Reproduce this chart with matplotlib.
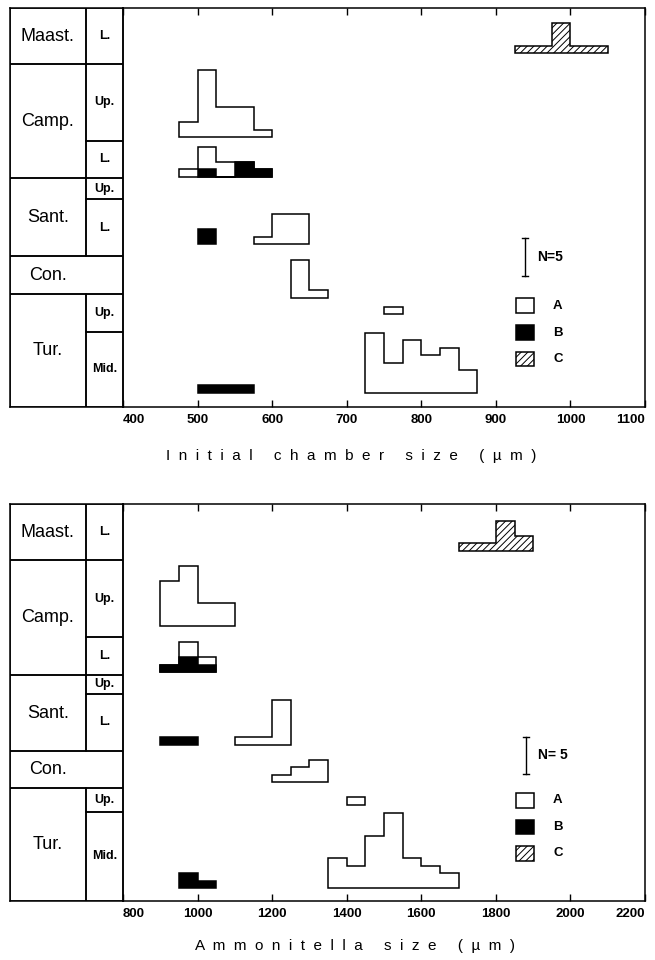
import numpy as np
import matplotlib
matplotlib.use("Agg")
import matplotlib.pyplot as plt
from matplotlib.patches import Rectangle, Polygon

plt.rcParams['font.family'] = ['Liberation Sans', 'DejaVu Sans']
plt.rcParams['hatch.linewidth'] = 0.7

# stratigraphic column (same vertical units as the histograms: 1 unit = 1 specimen)
stages = ["Maast.", "Camp.", "Sant.", "Con.", "Tur."]
substages = ["L.", "Up.", "L.", "Up.", "L.", "Up.", "Mid."]
sub_stage = [0, 1, 1, 2, 2, 4, 4]

chamber_stage_top = [53.2, 45.7, 30.5, 20.1, 15.1]
chamber_stage_bot = [45.7, 30.5, 20.1, 15.1, 0.0]
chamber_sub_top = [53.2, 45.7, 35.5, 30.5, 27.7, 15.1, 10.0]
chamber_sub_bot = [45.7, 35.5, 30.5, 27.7, 20.1, 10.0, 0.0]

ammon_stage_top = [52.9, 45.4, 30.1, 20.0, 15.0]
ammon_stage_bot = [45.4, 30.1, 20.0, 15.0, 0.0]
ammon_sub_top = [52.9, 45.4, 35.2, 30.1, 27.6, 15.0, 11.9]
ammon_sub_bot = [45.4, 35.2, 30.1, 27.6, 20.0, 11.9, 0.0]

# sampled horizons: Maast L, Camp Up, Camp L, Sant L, Con, Tur Up, Tur Mid
chamber_level = [47.2, 36.0, 30.7, 21.7, 14.6, 12.4, 1.9]
ammon_level = [46.7, 36.7, 30.5, 20.8, 15.8, 12.8, 1.7]

# (horizon, first bin edge, counts)
chamber_bin = 25
chamber_A = [(1, 475, [2, 9, 4, 4, 1]), (2, 475, [1, 3, 2, 0, 0]), (3, 575, [1, 4, 4]),
             (4, 625, [5, 1]), (5, 750, [1]), (6, 725, [8, 4, 7, 5, 6, 3])]
chamber_B = [(2, 500, [1, 0, 2, 1]), (3, 500, [2]), (6, 500, [1, 1, 1])]
chamber_C = [(0, 925, [1, 1, 4, 1, 1])]

ammon_bin = 50
ammon_A = [(1, 900, [6, 8, 3, 3]), (2, 900, [0, 2, 1]), (3, 1100, [1, 1, 6]),
           (4, 1200, [1, 2, 3]), (5, 1400, [1]), (6, 1350, [4, 3, 7, 10, 4, 3, 2])]
ammon_B = [(2, 900, [1, 2, 1]), (3, 900, [1, 1]), (6, 950, [2, 1])]
ammon_C = [(0, 1700, [1, 1, 4, 2])]

chamber_ticks = [400, 500, 600, 700, 800, 900, 1000, 1100]
ammon_ticks = [800, 1000, 1200, 1400, 1600, 1800, 2000, 2200]

LW = 1.1


def spaced(s):
    # letter-spaced label as in the original figure
    return "     ".join("  ".join(w) for w in s.split(" "))


def draw_hist(ax, entries, level, width, face, hatch=None, under=()):
    for lev, start, counts in entries:
        counts = np.array(counts, float)
        edges = start + width * np.arange(len(counts) + 1)
        base = level[lev]
        extra = np.zeros(len(counts))
        for lev2, start2, c2 in under:
            if lev2 != lev:
                continue
            for j, c in enumerate(c2):
                k = int(round((start2 + j * width - start) / width))
                if 0 <= k < len(counts):
                    extra[k] += c
        top = base + extra + counts
        pts = [(edges[0], base)]
        for i in range(len(counts)):
            pts.append((edges[i], top[i]))
            pts.append((edges[i + 1], top[i]))
        pts.append((edges[-1], base))
        ax.add_patch(Polygon(pts, closed=True, facecolor=face, edgecolor='black',
                             linewidth=LW, hatch=hatch, joinstyle='miter'))


def draw_column(cax, stop, sbot, subtop, subbot, ymax):
    cax.set_xlim(0, 1)
    cax.set_ylim(0, ymax)
    cax.set_xticks([])
    cax.set_yticks([])
    for s in cax.spines.values():
        s.set_linewidth(LW)
    split = 0.67
    for i, name in enumerate(stages):
        has_sub = i in sub_stage
        w = split if has_sub else 1.0
        cax.add_patch(Rectangle((0, sbot[i]), w, stop[i] - sbot[i], fill=False,
                                edgecolor='black', linewidth=LW))
        cax.text(split / 2, (stop[i] + sbot[i]) / 2, name, ha='center',
                 va='center', fontsize=13)
    for j, name in enumerate(substages):
        cax.add_patch(Rectangle((split, subbot[j]), 1 - split, subtop[j] - subbot[j],
                                fill=False, edgecolor='black', linewidth=LW))
        cax.text((1 + split) / 2, (subtop[j] + subbot[j]) / 2, name, ha='center',
                 va='center', fontsize=9, fontweight='bold')


def draw_legend(ax, nx, ny, ntext):
    ax.plot([nx, nx], [ny, ny + 5], color='black', lw=1.0)
    dx = (ax.get_xlim()[1] - ax.get_xlim()[0]) * 0.006
    for yy in (ny, ny + 5):
        ax.plot([nx - dx, nx + dx], [yy, yy], color='black', lw=1.0)
    ax.text(nx + dx * 4, ny + 2.5, ntext, ha='left', va='center', fontsize=10,
            fontweight='bold')
    boxes = [('A', 'white', None, 0.235), ('B', 'black', None, 0.168),
             ('C', 'white', '/////', 0.102)]
    for lab, fc, h, yb in boxes:
        ax.add_patch(Rectangle((0.752, yb), 0.035, 0.037, transform=ax.transAxes,
                               facecolor=fc, edgecolor='black', linewidth=LW,
                               hatch=h))
        ax.text(0.833, yb + 0.0185, lab, transform=ax.transAxes, ha='center',
                va='center', fontsize=9.5, fontweight='bold')


def panel(fig, y0, h, ticks, width, A, B, C, level, stop, sbot, subtop, subbot,
          ymax, nx, ny, ntext, label, lx, ly):
    ax = fig.add_axes([123 / 655, y0, 522 / 655, h])
    cax = fig.add_axes([10 / 655, y0, 113 / 655, h])
    draw_column(cax, stop, sbot, subtop, subbot, ymax)
    ax.set_xlim(ticks[0], ticks[-1])
    ax.set_ylim(0, ymax)
    ax.set_yticks([])
    ax.set_xticks(ticks, [str(t) for t in ticks])
    ax.tick_params(axis='x', direction='in', top=True, length=5, width=1.0,
                   pad=5, labelsize=9.5)
    for lab in ax.get_xticklabels():
        lab.set_fontweight('bold')
    ax.get_xticklabels()[0].set_ha('left')
    ax.get_xticklabels()[-1].set_ha('right')
    for s in ax.spines.values():
        s.set_linewidth(LW)
    draw_hist(ax, A, level, width, 'white', under=B)
    draw_hist(ax, B, level, width, 'black')
    draw_hist(ax, C, level, width, 'white', hatch='/////')
    draw_legend(ax, nx, ny, ntext)
    fig.text(lx, ly, spaced(label), ha='center', va='center', fontsize=11)


fig = plt.figure(figsize=(6.55, 9.6), dpi=100)
panel(fig, 1 - 407 / 960, 399 / 960, chamber_ticks, chamber_bin, chamber_A,
      chamber_B, chamber_C, chamber_level, chamber_stage_top, chamber_stage_bot,
      chamber_sub_top, chamber_sub_bot, 53.2, 939, 17.5, "N=5",
      "Initial chamber size (µm)", 351 / 655, 1 - 456 / 960)
panel(fig, 1 - 901 / 960, 397 / 960, ammon_ticks, ammon_bin, ammon_A,
      ammon_B, ammon_C, ammon_level, ammon_stage_top, ammon_stage_bot,
      ammon_sub_top, ammon_sub_bot, 52.9, 1880, 16.9, "N= 5",
      "Ammonitella size (µm)", 355 / 655, 1 - 946 / 960)

fig.savefig("out.png", dpi=100)
